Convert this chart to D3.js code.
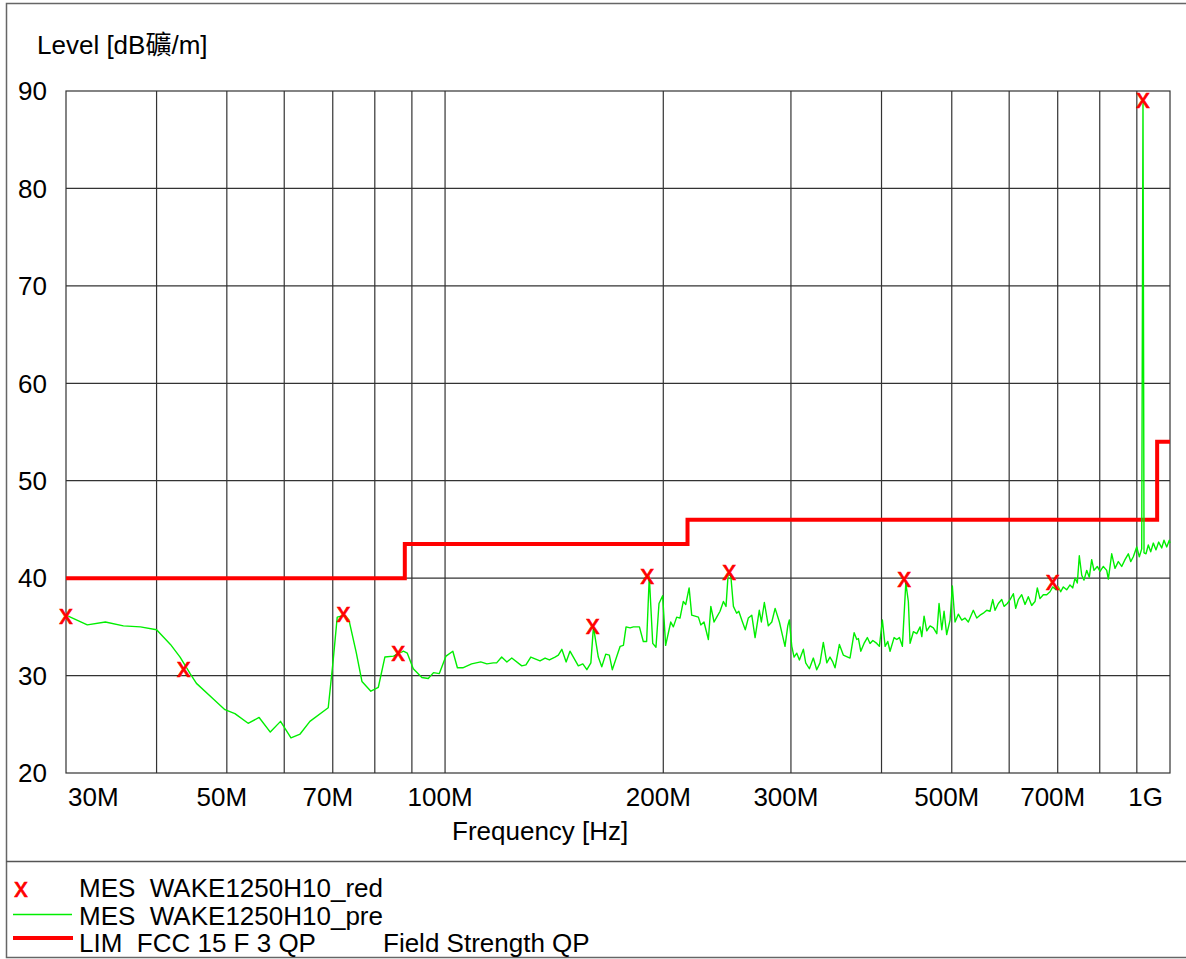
<!DOCTYPE html>
<html>
<head>
<meta charset="utf-8">
<script src="https://cdn.jsdelivr.net/npm/d3@7/dist/d3.min.js"></script>
<style>
  html, body { margin: 0; padding: 0; background: #fff; }
  svg { display: block; }
  text { font-family: "Liberation Sans", Arial, "Noto Sans CJK TC", sans-serif; fill: #000; }
</style>
</head>
<body>
<svg id="chart" width="1186" height="959"></svg>
<script>
// ---- data ----
const yTicks = [20, 30, 40, 50, 60, 70, 80, 90];
const xGrid = [40, 50, 60, 70, 80, 90, 100, 200, 300, 400, 500, 600, 700, 800, 900];
const xTickValues = [30, 50, 70, 100, 200, 300, 500, 700, 1000];
const xTickLabels = ["30M", "50M", "70M", "100M", "200M", "300M", "500M", "700M", "1G"];

// limit line FCC 15 F 3 QP (MHz, dB)
const limitFreq = [30, 88, 216, 960, 1000];
const limitLevel = [40, 43.5, 46, 54, 54];

// final measurement markers (red x)
const redFreq = [30.0, 43.6, 72.4, 86.2, 159.8, 190.1, 246.7, 430.1, 689.0, 918.0];
const redLevel = [36.0, 30.6, 36.2, 32.2, 35.0, 40.1, 40.5, 39.8, 39.5, 89.0];

// pre-scan trace (MHz, dB)
const preScan = [
[30.0,36.2],[32.1,35.2],[34.0,35.5],[36.0,35.1],[38.0,35.0],[40.0,34.7],[41.8,33.2],[43.1,31.9],
[44.5,30.2],[45.4,29.2],[47.9,27.6],[49.7,26.5],[51.3,26.1],[53.5,25.1],[55.4,25.7],[57.4,24.2],
[59.3,25.3],[61.3,23.6],[63.1,24.0],[65.1,25.3],[69.0,26.7],[70.1,31.6],[71.0,36.0],[72.8,36.2],
[73.7,35.7],[75.4,32.4],[76.8,29.4],[79.0,28.4],[80.9,28.8],[82.6,31.9],[84.9,32.0],[87.6,32.5],
[88.7,32.3],[90.4,30.7],[92.9,29.8],[94.8,29.7],[96.4,30.3],[98.2,30.2],[100.3,32.0],[102.5,32.5],
[104.0,30.8],[105.8,30.8],[108.8,31.2],[112.0,31.4],[114.2,31.2],[116.6,31.3],[117.8,31.3],[119.7,31.9],
[121.7,31.4],[123.6,31.8],[127.6,31.0],[129.3,31.1],[131.3,31.9],[135.2,31.5],[137.4,31.8],[139.3,31.6],
[141.8,31.9],[143.3,32.1],[144.9,32.7],[146.9,31.4],[148.7,32.5],[152.7,31.0],[154.9,31.2],[156.9,30.6],
[158.9,31.3],[160.2,35.0],[162.7,31.9],[164.5,30.9],[166.6,32.2],[168.5,32.1],[170.1,30.6],[174.4,33.0],
[176.2,33.1],[177.7,35.0],[180.0,34.9],[181.9,35.0],[185.4,35.0],[187.7,33.5],[189.7,33.5],[191.3,40.2],
[193.4,33.3],[195.4,32.9],[197.3,37.4],[199.6,38.2],[201.5,33.1],[204.8,35.5],[206.5,35.0],[208.7,36.0],
[210.9,35.9],[213.1,37.6],[214.8,37.3],[217.1,39.0],[218.9,36.2],[223.6,36.0],[225.3,35.2],[227.6,35.5],
[230.8,33.7],[232.6,37.1],[235.0,35.5],[237.0,36.0],[239.5,36.6],[242.1,37.6],[244.1,37.1],[245.7,40.3],
[247.8,40.3],[249.9,37.1],[252.5,36.4],[254.2,36.6],[256.9,35.6],[259.5,34.7],[262.0,35.9],[264.9,36.2],
[267.7,33.9],[271.3,36.7],[273.1,35.5],[275.7,37.5],[279.2,35.1],[282.3,35.5],[285.3,36.9],[289.2,35.5],
[292.3,34.0],[294.4,33.0],[297.0,35.1],[298.5,35.7],[300.8,33.0],[303.0,31.9],[305.6,32.3],[308.2,31.6],
[312.1,32.7],[314.4,31.3],[318.1,30.7],[322.1,31.8],[325.6,30.6],[329.0,31.3],[332.5,33.4],[336.2,31.3],
[339.6,31.9],[342.6,31.4],[345.1,30.8],[349.9,33.2],[354.3,32.1],[361.9,31.8],[366.7,34.4],[369.8,33.7],
[371.7,33.8],[374.5,32.5],[378.4,33.3],[382.4,33.9],[385.7,33.3],[389.1,33.6],[394.0,33.3],[397.3,33.0],
[401.1,35.7],[404.6,33.0],[408.0,33.5],[411.0,32.5],[416.3,33.9],[419.9,33.7],[423.4,33.9],[427.4,33.0],
[432.1,39.5],[435.6,37.6],[438.0,33.3],[442.6,34.5],[447.4,34.3],[452.1,35.0],[454.6,34.0],[457.9,36.1],
[461.8,34.6],[466.7,35.1],[471.6,34.9],[476.8,34.3],[480.2,37.4],[484.4,34.7],[487.9,36.6],[492.0,34.2],
[497.3,35.7],[500.9,39.2],[505.2,35.5],[510.5,36.3],[516.1,35.7],[521.5,35.9],[527.0,35.5],[535.4,36.7],
[541.3,35.9],[547.0,36.2],[552.7,36.4],[558.7,36.7],[564.6,36.6],[569.5,37.8],[573.7,36.7],[579.7,37.4],
[586.0,37.8],[590.3,37.1],[596.5,37.4],[601.7,37.8],[608.0,38.4],[612.6,36.9],[617.7,37.8],[624.4,38.3],
[631.0,37.3],[637.6,38.1],[644.5,37.2],[651.3,37.6],[656.1,39.0],[661.7,37.9],[668.7,38.3],[676.0,38.3],
[683.1,38.6],[689.0,39.1],[696.3,38.8],[701.4,39.1],[706.7,38.6],[712.6,39.1],[720.3,38.8],[727.9,39.3],
[734.2,39.0],[739.6,40.0],[745.0,39.5],[749.7,42.3],[755.5,40.3],[761.0,39.8],[767.5,40.8],[773.9,40.1],
[779.8,41.9],[785.5,40.8],[793.8,41.2],[800.7,40.7],[809.1,41.2],[817.9,40.8],[822.1,39.9],[831.0,42.5],
[839.7,41.0],[848.6,41.7],[857.8,41.2],[866.8,41.9],[876.0,42.5],[882.7,41.7],[890.0,42.2],[899.7,43.2],
[907.1,42.2],[914.1,43.0],[917.8,89.1],[920.8,42.6],[926.6,42.5],[933.4,43.4],[940.6,42.7],[948.4,43.6],
[956.5,42.9],[964.7,43.7],[974.0,43.1],[981.1,43.9],[989.6,43.2],[997.8,43.9],[1000,43.6]
];

const legendItems = ["MES  WAKE1250H10_red", "MES  WAKE1250H10_pre", "LIM  FCC 15 F 3 QP"];
const legendExtra = "Field Strength QP";

// ---- drawing ----
const svg = d3.select("#chart");
const L = 66, R = 1170, T = 91, B = 773;
const x = d3.scaleLog().domain([30, 1000]).range([L, R]);
const y = d3.scaleLinear().domain([20, 90]).range([B, T]);
const FS = 26;

// outer frame + legend separator
svg.append("rect").attr("x", 6.5).attr("y", 3.5).attr("width", 1190).attr("height", 954)
  .attr("fill", "none").attr("stroke", "#666").attr("stroke-width", 1.5);
svg.append("line").attr("x1", 6).attr("x2", 1186).attr("y1", 861.5).attr("y2", 861.5)
  .attr("stroke", "#555").attr("stroke-width", 1.5);

// grid
const grid = svg.append("g").attr("stroke", "#333").attr("stroke-width", 1.2);
grid.selectAll("line.v").data(xGrid).join("line")
  .attr("x1", d => x(d)).attr("x2", d => x(d)).attr("y1", T).attr("y2", B);
grid.selectAll("line.h").data(yTicks.slice(1, -1)).join("line")
  .attr("x1", L).attr("x2", R).attr("y1", d => y(d)).attr("y2", d => y(d));
svg.append("rect").attr("x", L).attr("y", T).attr("width", R - L).attr("height", B - T)
  .attr("fill", "none").attr("stroke", "#333").attr("stroke-width", 1.2);

// y tick labels
svg.append("g").selectAll("text").data(yTicks).join("text")
  .attr("x", 47).attr("y", d => y(d) + 9.3)
  .attr("text-anchor", "end").attr("font-size", FS).text(d => d);

// x tick labels
svg.append("g").selectAll("text").data(xTickValues).join("text")
  .attr("x", (d, i) => i === 0 ? L + 2 : (i === xTickValues.length - 1 ? R - 7 : x(d) - 5))
  .attr("y", 806)
  .attr("text-anchor", (d, i) => i === 0 ? "start" : (i === xTickValues.length - 1 ? "end" : "middle"))
  .attr("font-size", FS).text((d, i) => xTickLabels[i]);

// axis titles
svg.append("text").attr("x", 37).attr("y", 54).attr("font-size", FS).text("Level [dB礦/m]");
svg.append("text").attr("x", 452).attr("y", 840).attr("font-size", FS).text("Frequency [Hz]");

// limit line
const limitData = limitFreq.map((f, i) => [f, limitLevel[i]]);
svg.append("path").datum(limitData)
  .attr("d", d3.line().x(d => x(d[0])).y(d => y(d[1])).curve(d3.curveStepAfter))
  .attr("fill", "none").attr("stroke", "#ff0000").attr("stroke-width", 4);

// pre-scan trace
svg.append("path").datum(preScan)
  .attr("d", d3.line().x(d => x(d[0])).y(d => y(d[1])))
  .attr("fill", "none").attr("stroke", "#00ee00").attr("stroke-width", 1.4)
  .attr("stroke-linejoin", "round");

// markers
svg.append("g").selectAll("text").data(redFreq).join("text")
  .attr("x", d => x(d)).attr("y", (d, i) => y(redLevel[i]) + 7)
  .attr("text-anchor", "middle").attr("font-size", 27)
  .style("fill", "#ff0000").style("stroke", "#ff0000").style("stroke-width", 0.7).text("x");

// legend
const lg = svg.append("g");
lg.append("text").attr("x", 21).attr("y", 897).attr("text-anchor", "middle")
  .attr("font-size", 27).style("fill", "#ff0000").style("stroke", "#ff0000").style("stroke-width", 0.7).text("x");
lg.append("line").attr("x1", 13).attr("x2", 72).attr("y1", 914.5).attr("y2", 914.5)
  .attr("stroke", "#00ee00").attr("stroke-width", 1.4);
lg.append("line").attr("x1", 13).attr("x2", 73).attr("y1", 938).attr("y2", 938)
  .attr("stroke", "#ff0000").attr("stroke-width", 4);
lg.selectAll("text.item").data(legendItems).join("text")
  .attr("x", 79).attr("y", (d, i) => 897 + i * 27.5)
  .attr("font-size", FS).attr("xml:space", "preserve").style("white-space", "pre").text(d => d);
lg.append("text").attr("x", 383).attr("y", 952).attr("font-size", FS).text(legendExtra);
</script>
</body>
</html>
